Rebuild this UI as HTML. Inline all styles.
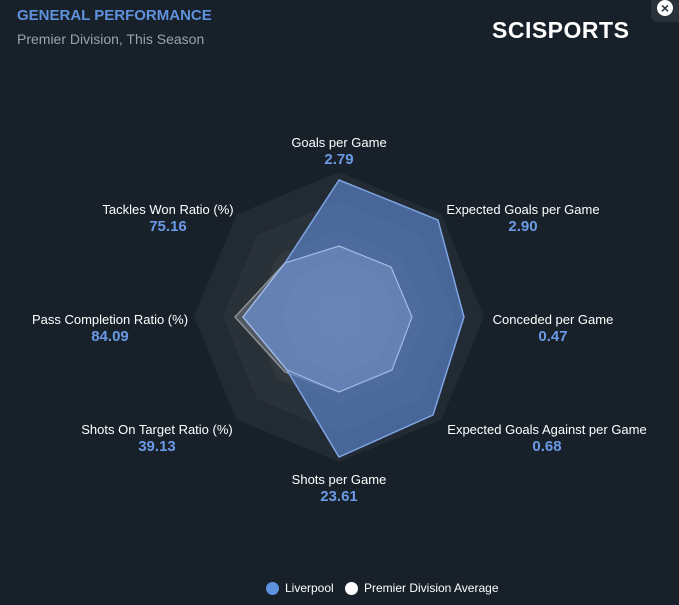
<!DOCTYPE html>
<html><head><style>
body{margin:0;background:#18212a;width:679px;height:605px;overflow:hidden;font-family:"Liberation Sans",sans-serif;position:relative}
.t{position:absolute;color:#fff;font-size:13px;text-align:center;white-space:nowrap}
.v{color:#6a9ae6;font-size:15px;font-weight:bold;display:block;margin-top:1px}
</style></head><body>
<div style="position:absolute;left:17px;top:7px;color:#5f92dd;font-weight:bold;font-size:15px">GENERAL PERFORMANCE</div>
<div style="position:absolute;left:17px;top:31px;color:#9aa3ab;font-size:14px">Premier Division, This Season</div>
<div style="position:absolute;left:492px;top:17px;color:#fff;font-weight:900;font-size:23px;letter-spacing:0.5px">SCISPORTS</div>
<div style="position:absolute;left:651px;top:-6px;width:34px;height:28px;background:#2a3239;border-radius:6px"></div>
<div style="position:absolute;left:657px;top:0;width:16px;height:16px;border-radius:50%;background:#fff;color:#2a3239;font-size:14px;line-height:16px;text-align:center;font-weight:bold">×</div>
<svg width="679" height="605" style="position:absolute;left:0;top:0">
<g transform="translate(339,317)">
<polygon points="0,-145 102.5,-102.5 145,0 102.5,102.5 0,145 -102.5,102.5 -145,0 -102.5,-102.5" fill="#222b33"/>
<polygon points="0,-116 82,-82 116,0 82,82 0,116 -82,82 -116,0 -82,-82" fill="#2a3239"/>
<polygon points="0,-87 61.5,-61.5 87,0 61.5,61.5 0,87 -61.5,61.5 -87,0 -61.5,-61.5" fill="#31393f"/>
<polygon points="0,-58 41,-41 58,0 41,41 0,58 -41,41 -58,0 -41,-41" fill="#383f45"/>
<polygon points="0,-29 20.5,-20.5 29,0 20.5,20.5 0,29 -20.5,20.5 -29,0 -20.5,-20.5" fill="#3f464b"/>
<polygon points="0,-71 52,-50 73,0 53,53 0,75 -54,55 -104,0 -54,-54" fill="#9aa0a6" fill-opacity="0.35" stroke="#8c9196" stroke-width="1.5"/>
<polygon points="0,-137 99,-97 125,0 94,98 0,140 -52,53 -96,0 -54,-54" fill="#5a80c4" fill-opacity="0.7" stroke="#7ea4e4" stroke-width="1.5"/>
<polygon points="0,-71 52,-50 73,0 53,53 0,75 -52,53 -96,0 -54,-54" fill="#8aa6d6" fill-opacity="0.25" stroke="#a9bfe6" stroke-width="1"/>
</g>
</svg>
<div class="t" style="left:339px;top:135px;transform:translateX(-50%)">Goals per Game<span class="v">2.79</span></div>
<div class="t" style="left:523px;top:202px;transform:translateX(-50%)">Expected Goals per Game<span class="v">2.90</span></div>
<div class="t" style="left:553px;top:312px;transform:translateX(-50%)">Conceded per Game<span class="v">0.47</span></div>
<div class="t" style="left:547px;top:422px;transform:translateX(-50%)">Expected Goals Against per Game<span class="v">0.68</span></div>
<div class="t" style="left:339px;top:472px;transform:translateX(-50%)">Shots per Game<span class="v">23.61</span></div>
<div class="t" style="left:157px;top:422px;transform:translateX(-50%)">Shots On Target Ratio (%)<span class="v">39.13</span></div>
<div class="t" style="left:110px;top:312px;transform:translateX(-50%)">Pass Completion Ratio (%)<span class="v">84.09</span></div>
<div class="t" style="left:168px;top:202px;transform:translateX(-50%)">Tackles Won Ratio (%)<span class="v">75.16</span></div>
<div style="position:absolute;left:266px;top:582px;width:13px;height:13px;border-radius:50%;background:#5f92dd"></div>
<div class="t" style="left:285px;top:581px;font-size:12px">Liverpool</div>
<div style="position:absolute;left:345px;top:582px;width:13px;height:13px;border-radius:50%;background:#fff"></div>
<div class="t" style="left:364px;top:581px;font-size:12px">Premier Division Average</div>
</body></html>
